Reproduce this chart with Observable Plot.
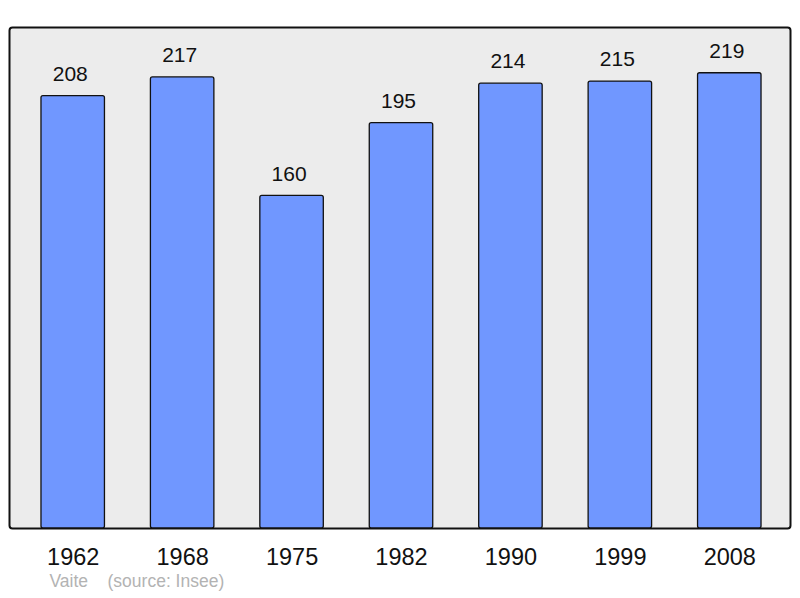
<!DOCTYPE html>
<html>
<head>
<meta charset="utf-8">
<script src="https://cdn.jsdelivr.net/npm/d3@7"></script>
<script src="https://cdn.jsdelivr.net/npm/@observablehq/plot@0.6"></script>
<style>
  html, body { margin: 0; padding: 0; background: #fff; }
  #chart svg { display: block; }
</style>
</head>
<body>
<div id="chart"></div>
<script>
const years = ["1962", "1968", "1975", "1982", "1990", "1999", "2008"];
const population = [208, 217, 160, 195, 214, 215, 219];
const captionText = "Vaite    (source: Insee)";

const data = years.map((y, i) => ({year: y, pop: population[i]}));

const chart = Plot.plot({
  width: 800,
  height: 598,
  marginLeft: 18,
  marginRight: 16,
  marginTop: 27,
  marginBottom: 70,
  style: {fontFamily: "'Liberation Sans', Arial, sans-serif", background: "white"},
  x: {domain: years, paddingInner: 0.42, paddingOuter: 0.21, round: false, label: null, tickSize: 0},
  y: {domain: [0, 241], axis: null},
  marks: [
    Plot.frame({fill: "#ececec", stroke: "#111", strokeWidth: 2, rx: 3, insetLeft: -9, insetRight: -6}),
    Plot.barY(data, {x: "year", y: "pop", fill: "#7097ff", stroke: "#111", strokeWidth: 1.3, rx: 2}),
    Plot.text(data, {x: "year", y: "pop", text: d => String(d.pop), dx: -3, dy: -22, fontSize: 21, fill: "#111"}),
    Plot.axisX({tickSize: 0, tickPadding: 20, fontSize: 23.5, fill: "#111", label: null}),
    Plot.text([captionText], {frameAnchor: "bottom-left", text: d => d, dx: 31, dy: 58, fontSize: 17.5, fill: "#b3b3b3", textAnchor: "start"})
  ]
});
document.getElementById("chart").appendChild(chart);
</script>
</body>
</html>
